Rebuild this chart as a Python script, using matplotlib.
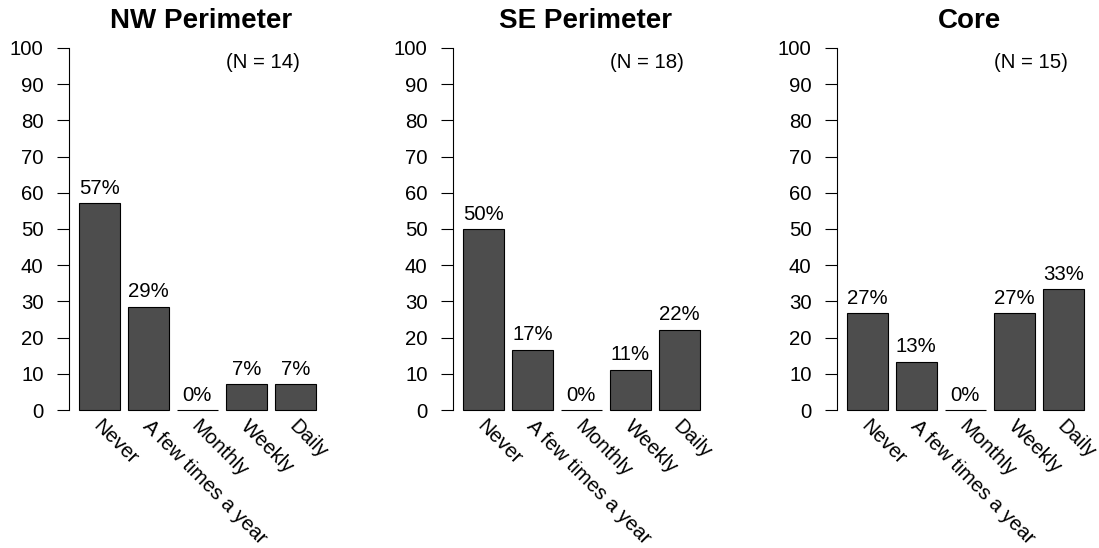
import numpy as np
import matplotlib
matplotlib.use('Agg')
import matplotlib.pyplot as plt
import matplotlib.transforms as mtransforms

plt.rcParams['font.family'] = ['Liberation Sans', 'DejaVu Sans']

categories = ['Never', 'A few times a year', 'Monthly', 'Weekly', 'Daily']
titles = ['NW Perimeter', 'SE Perimeter', 'Core']
nw_counts = [8, 4, 0, 1, 1]
se_counts = [9, 3, 0, 2, 4]
core_counts = [4, 2, 0, 4, 5]
yticks = [0, 10, 20, 30, 40, 50, 60, 70, 80, 90, 100]

W, H = 1099, 548
fig = plt.figure(figsize=(W / 100, H / 100), dpi=100)

# bar centres like R barplot (width 1, space 0.2)
centers = 0.2 + np.arange(len(categories)) * 1.2 + 0.5


def panel(i, title, counts):
    off = 384 * i
    left, right = 69.2 + off, 333.6 + off
    top, bottom = 33.5, 424.5
    ax = fig.add_axes([left / W, 1 - bottom / H, (right - left) / W, (bottom - top) / H])
    n = sum(counts)
    pct = [c / n * 100 for c in counts]

    ax.bar(centers, pct, width=1.0, color='#4d4d4d', edgecolor='black', linewidth=0.8)
    ax.set_xlim(-0.04, 6.44)
    ax.set_ylim(-4, 104)

    for s in ['top', 'right', 'bottom']:
        ax.spines[s].set_visible(False)
    ax.spines['left'].set_bounds(0, 100)
    ax.spines['left'].set_linewidth(0.8)
    ax.set_xticks([])
    ax.set_yticks(yticks)
    ax.tick_params(axis='y', length=8.9, width=0.8, pad=9.6, labelsize=14.7)

    up = mtransforms.offset_copy(ax.transData, fig=fig, x=0, y=6.8, units='points')
    for x, p in zip(centers, pct):
        ax.text(x, p, f'{round(p)}%', ha='center', va='baseline', fontsize=14.7, transform=up)

    down = mtransforms.offset_copy(ax.transData, fig=fig, x=-5.0, y=-12.0, units='points')
    for x, lab in zip(centers, categories):
        ax.text(x, 0, lab, rotation=-45, rotation_mode='anchor', ha='left', va='baseline',
                fontsize=14.7, transform=down, clip_on=False)

    ax.text(4.7, 96, f'(N = {n})', ha='center', va='center', fontsize=14.7)
    ax.set_title(title, fontsize=20, fontweight='bold', pad=4.2)


panel(0, titles[0], nw_counts)
panel(1, titles[1], se_counts)
panel(2, titles[2], core_counts)

fig.savefig('out.png', dpi=100)
